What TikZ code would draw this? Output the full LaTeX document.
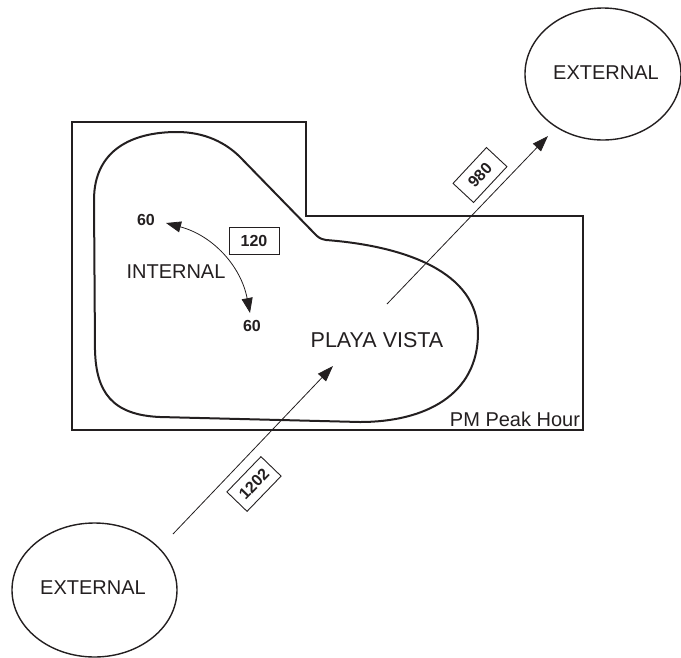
\documentclass[tikz,border=0pt]{standalone}
\usepackage{fontspec}
\setmainfont{Liberation Sans}
\usetikzlibrary{arrows.meta,shapes.geometric}
\definecolor{ink}{HTML}{231F20}
\tikzset{
  ext/.style={draw=ink,line width=1.4pt,ellipse,inner sep=0pt,font=\fontsize{20}{24}\selectfont,text=ink},
  lbl/.style={font=\fontsize{20}{24}\selectfont,text=ink,inner sep=0pt},
  num/.style={font=\fontsize{16}{19}\selectfont\bfseries,text=ink,inner sep=0pt},
  numbox/.style={draw=ink,line width=0.9pt,fill=white,minimum width=50pt,minimum height=27pt,inner sep=0pt,font=\fontsize{16}{19}\selectfont\bfseries,text=ink},
  flow/.style={draw=ink,line width=0.8pt,-{Triangle[length=16pt,width=11pt]}},
  zone/.style={draw=ink,line width=1.5pt},
  blob/.style={draw=ink,line width=2pt,line join=round}
}
\begin{document}
\begin{tikzpicture}[x=1pt,y=-1pt]
\useasboundingbox (0,0) rectangle (681,657);
% outer study area
\draw[zone] (72,122) -- (306,122) -- (306,216) -- (583,216) -- (583,430) -- (72,430) -- cycle;
% Playa Vista zone
\draw[blob] (94,200) .. controls (94,150) and (132,132) .. (177,132)
  .. controls (205,132) and (226,143) .. (240,157)
  -- (315,234) .. controls (318,237) and (320,239) .. (326,240)
  .. controls (405,246) and (478,272) .. (478,333)
  .. controls (478,395) and (425,422) .. (360,422)
  -- (160,417) .. controls (112,415) and (96,392) .. (95,350) -- cycle;
% nodes
\node[ext,minimum width=165pt,minimum height=134pt] (extA) at (94.5,590) {};
\node[lbl] (extAt) at (93,588) {EXTERNAL};
\node[ext,minimum width=156pt,minimum height=132pt] (extB) at (603,74) {};
\node[lbl] (extBt) at (606,73) {EXTERNAL};
\node[lbl,font=\fontsize{21.5}{25}\selectfont] (pv) at (377,340) {PLAYA VISTA};
\node[lbl] (int) at (176,272) {INTERNAL};
\node[num] (n60a) at (146,220) {60};
\node[num] (n60b) at (252,326) {60};
\node[numbox] (b120) at (254,241) {120};
\node[lbl] (pm) at (515,419) {PM Peak Hour};
% arrow ends
\coordinate (inS) at (173,534);
\coordinate (inE) at (333,366);
\coordinate (outS) at (387,304);
\coordinate (outE) at (548,136);
\coordinate (iA) at (166,223);
\coordinate (iB) at (250,313);
% flows
\draw[flow] (inS) -- (inE);
\draw[flow] (outS) -- (outE);
\draw[draw=ink,line width=0.8pt,{Triangle[length=15pt,width=11pt]}-{Triangle[length=15pt,width=11pt]}] (iA) to[bend left=32] (iB);
% rotated labels
\node[numbox,rotate=47,minimum width=49pt,minimum height=28pt] (b980) at (480,175) {980};
\node[numbox,rotate=46,minimum width=49pt,minimum height=28pt] (b1202) at (254,484) {1202};
\end{tikzpicture}
\end{document}
